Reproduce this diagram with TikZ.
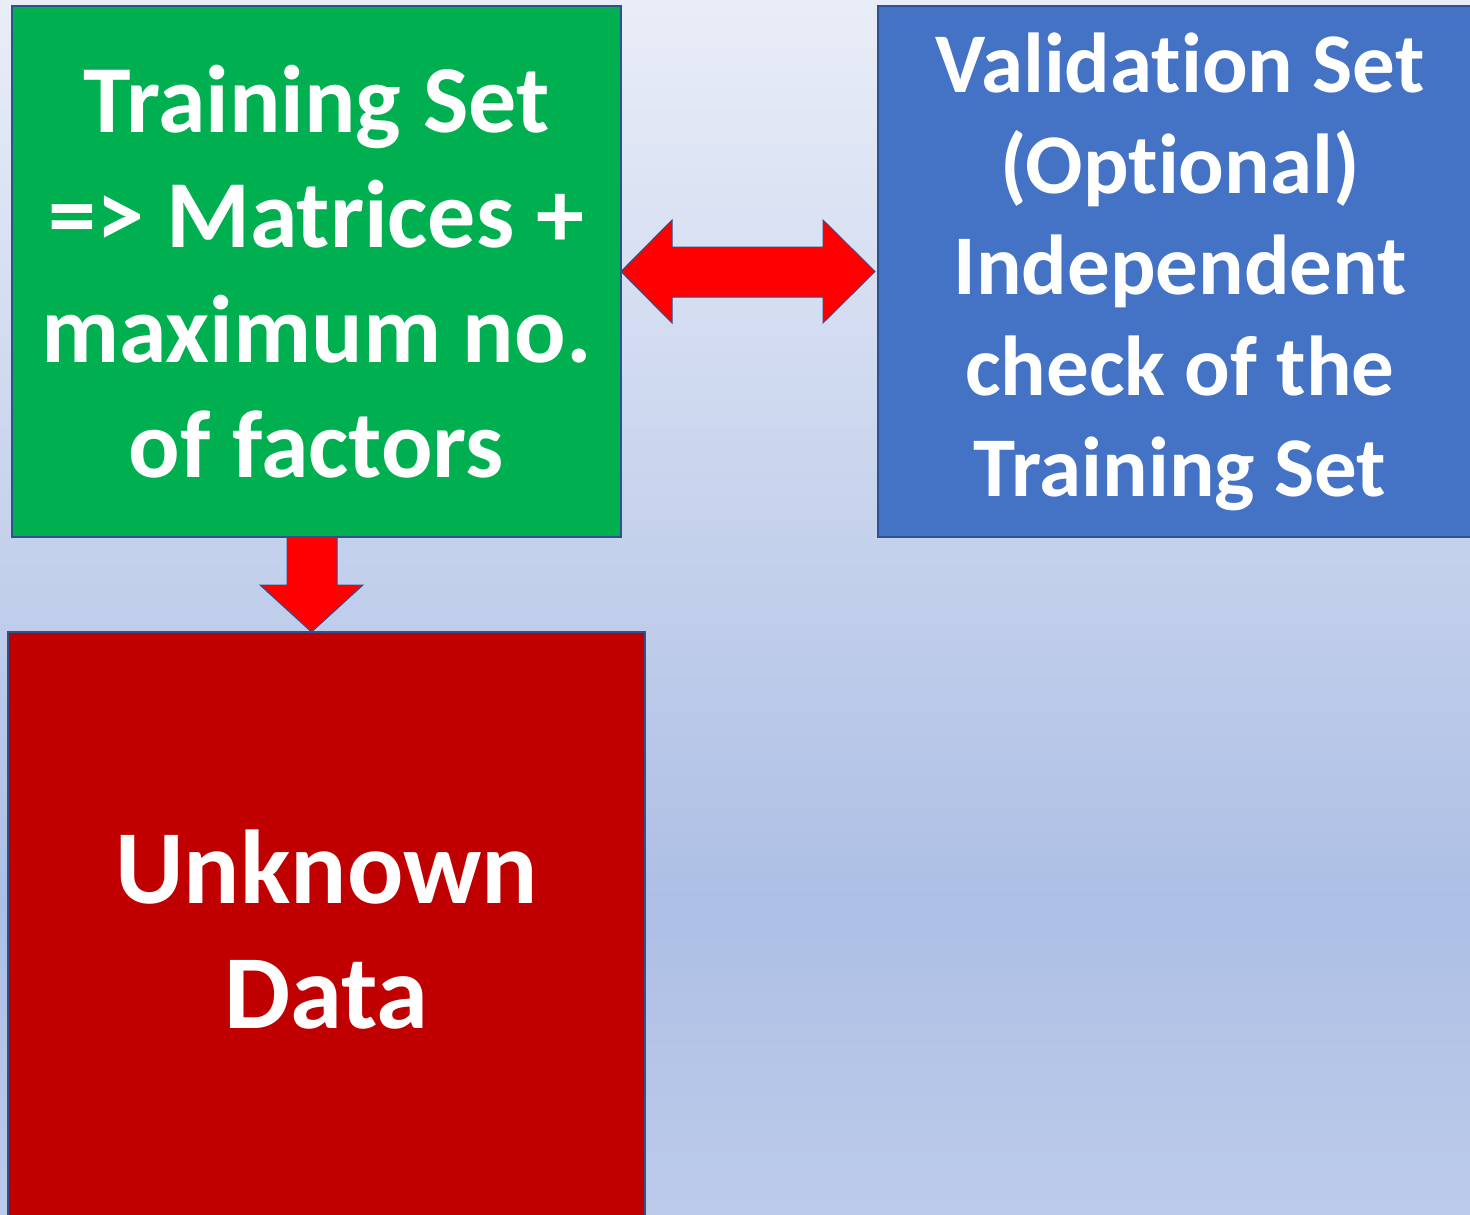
\documentclass[tikz,border=0pt]{standalone}
\usepackage{fontspec}
\setmainfont[RawFeature=-liga]{Carlito}
\usetikzlibrary{calc}

\definecolor{bgtop}{HTML}{E9EDF7}
\definecolor{bgmid}{HTML}{ADBFE5}
\definecolor{bgbot}{HTML}{BCCBEA}
\definecolor{setgreen}{HTML}{00B050}
\definecolor{setblue}{HTML}{4472C4}
\definecolor{unkred}{HTML}{C00000}
\definecolor{arrred}{HTML}{FF0000}
\definecolor{edgeblue}{HTML}{2F528F}

\tikzset{
	box/.style={draw=edgeblue, line width=0.6pt, inner sep=0pt, outer sep=0pt, text=white, align=center},
	blockarrow/.style={fill=arrred, draw=edgeblue, line width=0.5pt, line join=miter},
}

\begin{document}
\begin{tikzpicture}[x=0.5pt, y=-0.5pt]
		%%%%% START %%%%%
		
		\useasboundingbox (0,0) rectangle (1470,1214);
		\shade[top color=bgtop, bottom color=bgmid] (0,0) rectangle (1470,901);
		\shade[top color=bgmid, bottom color=bgbot] (0,900) rectangle (1470,1214);
		
		\node[box, fill=setgreen, minimum width=304.5pt, minimum height=265.5pt,
			font={\fontsize{48}{57.5}\selectfont\bfseries}] (train) at (316.5, 271.5)
			{Training Set\\=> Matrices +\\maximum no.\\of factors};
		
		\node[box, fill=setblue, minimum width=302pt, minimum height=265.5pt,
			font={\fontsize{42.5}{50.5}\selectfont\bfseries}] (valid) at (1180, 271.5)
			{Validation Set\\(Optional)\\Independent\\check of the\\Training Set};
		
		\node[box, fill=unkred, minimum width=318.5pt, minimum height=298pt,
			font={\fontsize{52.5}{62.5}\selectfont\bfseries}] (unknown) at (326.5, 930)
			{Unknown\\Data};
		
		% two-headed arrow between the sets
		\draw[blockarrow] (train.east) -- ++(51,-51.5) -- ++(0,27) -- ++(151,0) -- ++(0,-27)
			-- ($(valid.west)+(-3,0)$) -- ++(-52,51.5) -- ++(0,-26) -- ++(-151,0) -- ++(0,26) -- cycle;
		
		% down arrow to the unknown data
		\draw[blockarrow] ($(train.south)+(-29.5,0)$) -- ++(50,0) -- ++(0,48) -- ++(26,0)
			-- ($(unknown.north)+(-15,0)$) -- ++(-51.5,-47) -- ++(27,0) -- cycle;
		
		%%%%% END %%%%%
	\end{tikzpicture}
\end{document}
